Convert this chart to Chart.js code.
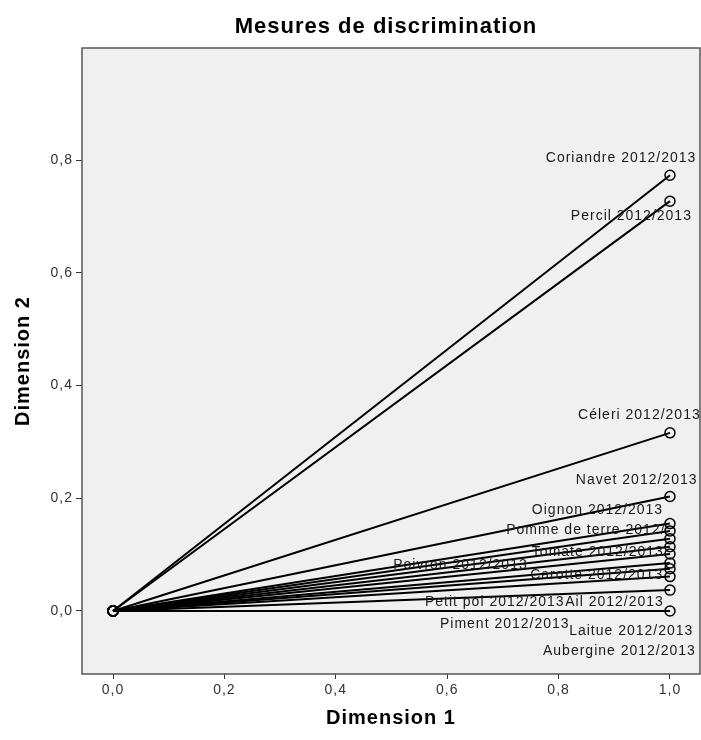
<!DOCTYPE html>
<html>
<head>
<meta charset="utf-8">
<script src="https://cdn.jsdelivr.net/npm/chart.js@4/dist/chart.umd.min.js"></script>
<style>
  html, body { margin: 0; padding: 0; background: #fff; }
  #wrap { width: 701px; height: 740px; }
</style>
</head>
<body>
<div id="wrap"><canvas id="chart" width="701" height="740"></canvas></div>
<script>
// ==================== DATA ====================
const variables = [
  'Coriandre 2012/2013', 'Percil 2012/2013', 'Céleri 2012/2013', 'Navet 2012/2013',
  'Oignon 2012/2013', 'Pomme de terre 2012/2013', 'Tomate 2012/2013', 'Poivron 2012/2013',
  'Carotte 2012/2013', 'Petit poi 2012/2013', 'Ail 2012/2013', 'Piment 2012/2013',
  'Laitue 2012/2013', 'Aubergine 2012/2013',
];
const dim1 = [1.0, 1.0, 1.0, 1.0, 1.0, 1.0, 1.0, 1.0, 1.0, 1.0, 1.0, 1.0, 1.0, 1.0];
const dim2 = [0.773, 0.727, 0.316, 0.203, 0.155, 0.142, 0.128, 0.114, 0.101, 0.085, 0.075, 0.061, 0.037, 0.0];
const xTicks = [0, 0.2, 0.4, 0.6, 0.8, 1.0];
const yTicks = [0, 0.2, 0.4, 0.6, 0.8];

// where SPSS put each point label (left edge / vertical centre, in axis units)
const labelX = [0.777, 0.822, 0.835, 0.831, 0.752, 0.706, 0.752, 0.503, 0.749, 0.560, 0.812, 0.587, 0.819, 0.772];
const labelY = [0.804, 0.701, 0.348, 0.232, 0.178, 0.144, 0.105, 0.082, 0.064, 0.015, 0.015, -0.024, -0.035, -0.072];
const labelClip = { 'Pomme de terre 2012/2013': 0.995 };

const TITLE = 'Mesures de discrimination';
const FONT = "'Liberation Sans', Arial, sans-serif";
const fmt = (v) => v.toFixed(1).replace('.', ',');

// plot background, frame, title and point labels
const spssFrame = {
  id: 'spssFrame',
  beforeDraw(chart) {
    const { ctx, chartArea: a } = chart;
    ctx.letterSpacing = '1px';
    ctx.save();
    ctx.fillStyle = '#f0f0f0';
    ctx.fillRect(a.left, a.top, a.right - a.left, a.bottom - a.top);
    ctx.restore();
  },
  afterDatasetsDraw(chart) {
    const { ctx, chartArea: a, scales } = chart;
    ctx.save();
    ctx.font = `14px ${FONT}`;
    ctx.fillStyle = '#1a1a1a';
    ctx.textAlign = 'left';
    ctx.textBaseline = 'middle';
    variables.forEach((name, i) => {
      const px = scales.x.getPixelForValue(labelX[i]);
      const py = scales.y.getPixelForValue(labelY[i]);
      ctx.save();
      if (labelClip[name] !== undefined) {
        const cx = scales.x.getPixelForValue(labelClip[name]);
        ctx.beginPath();
        ctx.rect(px - 2, py - 12, cx - px + 2, 24);
        ctx.clip();
      }
      ctx.fillText(name, px, py);
      ctx.restore();
    });
    ctx.strokeStyle = '#555';
    ctx.lineWidth = 1.5;
    ctx.strokeRect(a.left, a.top, a.right - a.left, a.bottom - a.top);

    // title, centred a little left of the plot centre like SPSS
    ctx.font = `bold 22px ${FONT}`;
    ctx.fillStyle = '#000';
    ctx.textAlign = 'center';
    ctx.fillText(TITLE, 386, 27);
    ctx.restore();
  },
};

const datasets = variables.map((name, i) => ({
  label: name,
  data: [{ x: 0, y: 0 }, { x: dim1[i], y: dim2[i] }],
  showLine: true,
  borderColor: '#000',
  borderWidth: 2,
  pointRadius: 5,
  pointBorderWidth: 1.5,
  pointBorderColor: '#000',
  pointBackgroundColor: 'rgba(0,0,0,0)',
}));

new Chart(document.getElementById('chart').getContext('2d'), {
  type: 'scatter',
  data: { datasets },
  plugins: [spssFrame],
  options: {
    responsive: false,
    animation: false,
    layout: { autoPadding: false, padding: { left: 0, right: 1, top: 48, bottom: 0 } },
    plugins: {
      legend: { display: false },
      tooltip: { enabled: false },
      title: { display: false },
    },
    scales: {
      x: {
        type: 'linear',
        min: -0.0557,
        max: 1.0539,
        afterBuildTicks: (s) => { s.ticks = xTicks.map((v) => ({ value: v })); },
        afterFit: (s) => { s.height = 66; s.paddingLeft = 0; s.paddingRight = 0; },
        ticks: { callback: fmt, color: '#333', font: { family: FONT, size: 14 }, padding: 3 },
        grid: { drawOnChartArea: false, tickLength: 5, color: '#333' },
        border: { display: false },
        title: {
          display: true,
          text: 'Dimension 1',
          color: '#000',
          font: { family: FONT, size: 20, weight: 'bold' },
          padding: { top: 0, bottom: 10 },
        },
      },
      y: {
        type: 'linear',
        min: -0.1118,
        max: 0.9987,
        afterBuildTicks: (s) => { s.ticks = yTicks.map((v) => ({ value: v })); },
        afterFit: (s) => { s.width = 82; s.paddingTop = 0; s.paddingBottom = 0; },
        ticks: { callback: fmt, color: '#333', font: { family: FONT, size: 14 }, padding: 3 },
        grid: { drawOnChartArea: false, tickLength: 6, color: '#333' },
        border: { display: false },
        title: {
          display: true,
          text: 'Dimension 2',
          color: '#000',
          font: { family: FONT, size: 20, weight: 'bold' },
          padding: { top: 11, bottom: 0 },
        },
      },
    },
  },
});
</script>
</body>
</html>
